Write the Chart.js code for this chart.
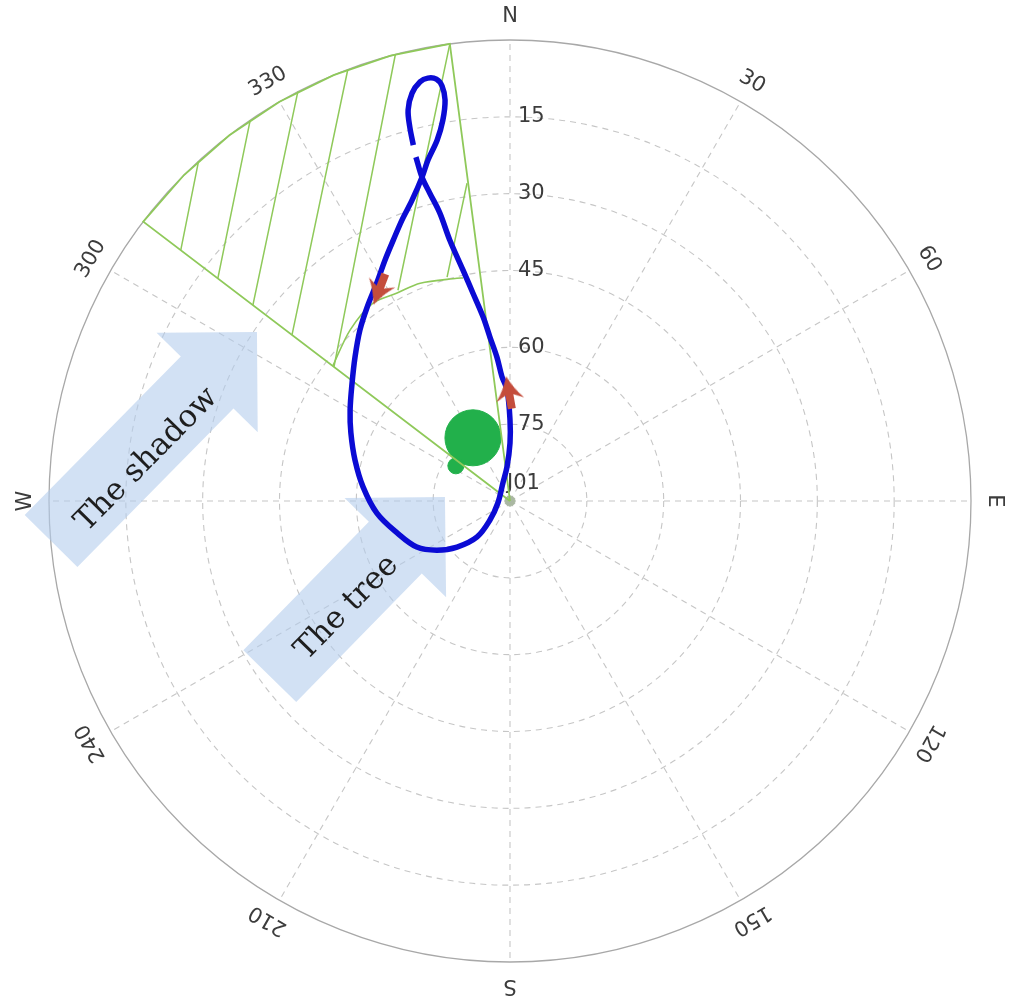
<!DOCTYPE html>
<html>
<head>
<meta charset="utf-8">
<title>Sun path and tree shadow</title>
<script src="https://cdn.jsdelivr.net/npm/chart.js@4/dist/chart.umd.min.js"></script>
<style>
  html, body { margin: 0; padding: 0; background: #fff; }
  canvas { display: block; }
</style>
</head>
<body>
<canvas id="sunPath" width="1018" height="1000"></canvas>
<script>
// compass labels on the rim, every 30 degrees clockwise from north
const compassLabels = ['N', '30', '60', 'E', '120', '150', 'S', '210', '240', 'W', '300', '330'];
const compassAngles = [0, 30, 60, 90, 120, 150, 180, 210, 240, 270, 300, 330];

// elevation rings: 0 is the horizon (rim), 90 the zenith (centre)
const ringElevations = [0, 15, 30, 45, 60, 75];
const tickElevations = [15, 30, 45, 60, 75, 90];
const tickLabels = ['15', '30', '45', '60', '75', 'J01'];

// sun path (azimuth deg, elevation deg)
const sunAz = [344.8, 345.0, 345.4, 346.5, 347.9, 349.0, 350.1, 350.7, 350.8, 350.0,
  348.6, 346.5, 344.8, 342.0, 339.0, 335.9, 332.6, 328.6, 323.6, 318.7,
  312.9, 306.8, 299.6, 293.2, 284.8, 275.4, 264.8, 254.2, 243.7, 236.1,
  229.0, 222.5, 226.5, 260.5, 338.7, 355.0, 360.0, 360.0, 358.5, 356.3,
  354.8, 353.0, 351.7, 349.9, 348.5, 347.0, 346.3, 345.4, 344.8, 344.7];
const sunEl = [18.0, 14.4, 11.1, 8.1, 6.3, 5.9, 6.4, 7.9, 10.7, 14.5,
  18.1, 21.5, 24.5, 28.2, 31.2, 34.2, 37.0, 40.1, 43.0, 45.6,
  48.7, 51.5, 54.1, 56.2, 58.7, 61.2, 63.9, 67.1, 69.7, 72.8,
  76.3, 80.5, 84.6, 87.6, 86.2, 83.3, 78.7, 74.2, 68.3, 65.7,
  61.8, 57.7, 53.7, 48.8, 44.0, 37.7, 32.1, 27.9, 24.5, 20.4];

// direction arrows on the path
const arrowAz = [328.4, 359.5];
const arrowEl = [41.4, 68.9];
const arrowHeading = [201, 350];

// shadow sector outline: centre -> rim arc -> centre
const shadowAz = [307.3, 307.3, 315, 322.5, 330, 337.5, 345, 352.5, 352.5];
const shadowEl = [90, 0, 0, 0, 0, 0, 0, 0, 90];

// inner arc of the sector
const arcAz = [307.3, 316.9, 325.3, 331.5, 337.6, 346.6, 348.1];
const arcEl = [46.5, 44.3, 43.0, 43.8, 44.0, 45.3, 45.5];

// hatch strokes inside the sector
const hatchFromAz = [317.5, 325.7, 332.6, 339.4, 345.6, 352.5, 352.3];
const hatchFromEl = [0, 0, 0, 0, 0, 0, 27.4];
const hatchToAz = [307.3, 307.3, 307.3, 307.3, 307.3, 332.0, 344.3];
const hatchToEl = [9.2, 18.3, 26.9, 36.5, 46.8, 43.4, 44.6];

// the tree (crown and a small lobe)
const treeAz = [329.6, 303.0];
const treeEl = [75.7, 77.4];

const calloutTexts = ['The shadow', 'The tree'];

const polar = (az, el) => {
  const r = 90 - el, a = az * Math.PI / 180;
  return { x: r * Math.sin(a), y: r * Math.cos(a) };
};
const toPoints = (azs, els) => azs.map((a, i) => polar(a, els[i]));

const hatchPoints = [];
hatchFromAz.forEach((a, i) => {
  hatchPoints.push(polar(a, hatchFromEl[i]), polar(hatchToAz[i], hatchToEl[i]), { x: null, y: null });
});

// big pale arrows, in chart units (tail, tip, text centre)
const callouts = [
  { tail: [-89.6, -7.8], tip: [-49.4, 33.0], text: [-70.9, 8.0] },
  { tail: [-46.9, -34.2], tip: [-12.7, 0.8], text: [-31.8, -20.9] }
];

function makeArrowHead(color) {
  const c = document.createElement('canvas');
  c.width = 30; c.height = 36;
  const g = c.getContext('2d');
  g.fillStyle = color;
  g.beginPath();
  g.moveTo(15, 1);
  g.quadraticCurveTo(20, 14, 29, 25);
  g.lineTo(19, 20);
  g.lineTo(19, 34);
  g.lineTo(11, 34);
  g.lineTo(11, 20);
  g.lineTo(1, 25);
  g.quadraticCurveTo(10, 14, 15, 1);
  g.closePath();
  g.fill();
  return c;
}

const polarGrid = {
  id: 'polarGrid',
  beforeDatasetsDraw(chart) {
    const { ctx, scales: { x, y } } = chart;
    const cx = x.getPixelForValue(0), cy = y.getPixelForValue(0);
    const rad = el => x.getPixelForValue(90 - el) - cx;
    const px = p => [x.getPixelForValue(p[0]), y.getPixelForValue(p[1])];
    ctx.save();

    // rings
    ringElevations.forEach(el => {
      ctx.beginPath();
      if (el === 0) {
        ctx.setLineDash([]);
        ctx.strokeStyle = '#a8a8a8';
        ctx.lineWidth = 1.3;
      } else {
        ctx.setLineDash([6, 5]);
        ctx.strokeStyle = '#c6c6c6';
        ctx.lineWidth = 1.1;
      }
      ctx.arc(cx, cy, rad(el), 0, Math.PI * 2);
      ctx.stroke();
    });

    // spokes
    ctx.setLineDash([6, 5]);
    ctx.strokeStyle = '#c6c6c6';
    ctx.lineWidth = 1.1;
    ctx.beginPath();
    compassAngles.forEach(a => {
      const p = polar(a, 0);
      ctx.moveTo(cx, cy);
      ctx.lineTo(x.getPixelForValue(p.x), y.getPixelForValue(p.y));
    });
    ctx.stroke();
    ctx.setLineDash([]);

    // compass labels, rotated with their bearing
    ctx.fillStyle = '#3c3c3c';
    ctx.font = '21px "DejaVu Sans"';
    ctx.textAlign = 'center';
    ctx.textBaseline = 'middle';
    const rl = rad(0) + 23;
    compassLabels.forEach((t, i) => {
      const a = compassAngles[i] * Math.PI / 180;
      ctx.save();
      ctx.translate(cx + rl * Math.sin(a), cy - rl * Math.cos(a));
      ctx.rotate(a);
      ctx.fillText(t, 0, 0);
      ctx.restore();
    });

    // elevation labels along the north spoke
    ctx.textAlign = 'left';
    tickElevations.forEach((el, i) => {
      if (el === 90) ctx.fillText(tickLabels[i], cx - 3, cy - 17);
      else ctx.fillText(tickLabels[i], cx + 8, cy - rad(el));
    });

    // pale callout arrows
    callouts.forEach((c, i) => {
      const [tx, ty] = px(c.tail), [hx, hy] = px(c.tip);
      const len = Math.hypot(hx - tx, hy - ty);
      const ux = (hx - tx) / len, uy = (hy - ty) / len;
      const nx = -uy, ny = ux;
      const sw = 37, hw = 71, hl = 71;
      const bx = hx - ux * hl, by = hy - uy * hl;
      ctx.fillStyle = 'rgba(180, 205, 236, 0.6)';
      ctx.beginPath();
      ctx.moveTo(tx + nx * sw, ty + ny * sw);
      ctx.lineTo(bx + nx * sw, by + ny * sw);
      ctx.lineTo(bx + nx * hw, by + ny * hw);
      ctx.lineTo(hx, hy);
      ctx.lineTo(bx - nx * hw, by - ny * hw);
      ctx.lineTo(bx - nx * sw, by - ny * sw);
      ctx.lineTo(tx - nx * sw, ty - ny * sw);
      ctx.closePath();
      ctx.fill();

      const [sx, sy] = px(c.text);
      ctx.save();
      ctx.translate(sx, sy);
      ctx.rotate(Math.atan2(uy, ux));
      ctx.fillStyle = '#1e1e1e';
      ctx.font = '31px "DejaVu Serif"';
      ctx.textAlign = 'center';
      ctx.textBaseline = 'middle';
      ctx.fillText(calloutTexts[i], 0, 0);
      ctx.restore();
    });

    ctx.restore();
  }
};

const green = '#8fc95a';

new Chart(document.getElementById('sunPath'), {
  type: 'scatter',
  data: {
    datasets: [
      {
        label: 'Direction',
        data: toPoints(arrowAz, arrowEl),
        pointStyle: makeArrowHead('#c44d3c'),
        pointRotation: arrowHeading,
        pointRadius: 16,
        clip: false,
        order: 0
      },
      {
        label: 'Sun path',
        data: toPoints(sunAz, sunEl),
        showLine: true,
        borderColor: '#0b0bd4',
        borderWidth: 5.5,
        tension: 0.35,
        pointRadius: 0,
        clip: false,
        order: 1
      },
      {
        label: 'Shadow sector',
        data: toPoints(shadowAz, shadowEl),
        showLine: true,
        borderColor: green,
        borderWidth: 1.8,
        pointRadius: 0,
        clip: false,
        order: 2
      },
      {
        label: 'Hatch',
        data: hatchPoints,
        showLine: true,
        spanGaps: false,
        borderColor: green,
        borderWidth: 1.5,
        pointRadius: 0,
        clip: false,
        order: 3
      },
      {
        label: 'Inner arc',
        data: toPoints(arcAz, arcEl),
        showLine: true,
        borderColor: green,
        borderWidth: 1.6,
        tension: 0.3,
        pointRadius: 0,
        clip: false,
        order: 4
      },
      {
        label: 'Tree',
        data: toPoints(treeAz, treeEl),
        backgroundColor: '#22b04b',
        borderColor: '#22b04b',
        pointRadius: [28, 8],
        clip: false,
        order: 5
      },
      {
        label: 'Zenith',
        data: [polar(0, 90)],
        backgroundColor: '#aab8a2',
        borderColor: '#aab8a2',
        pointRadius: 5,
        clip: false,
        order: 6
      }
    ]
  },
  options: {
    responsive: false,
    animation: false,
    layout: { padding: { left: 49, right: 47, top: 40, bottom: 38 } },
    scales: {
      x: { type: 'linear', min: -90, max: 90, display: false },
      y: { type: 'linear', min: -90, max: 90, display: false }
    },
    plugins: {
      legend: { display: false },
      tooltip: { enabled: false }
    }
  },
  plugins: [polarGrid]
});
</script>
</body>
</html>
